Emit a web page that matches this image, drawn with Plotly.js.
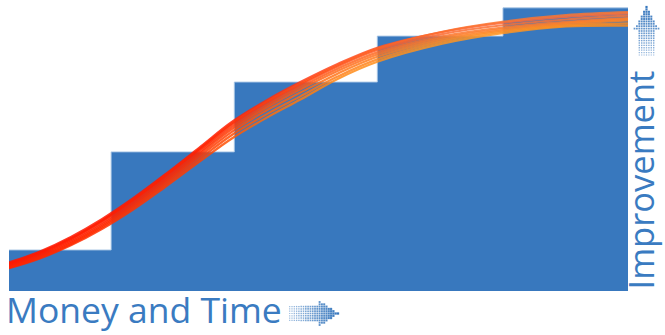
<!DOCTYPE html>
<html>
<head>
<meta charset="utf-8">
<script src="https://cdn.plot.ly/plotly-3.0.1.min.js"></script>
<style>
  html, body { margin: 0; padding: 0; background: #ffffff; }
  #chart { width: 665px; height: 335px; }
</style>
</head>
<body>
<div id="chart"></div>
<script>
// Funding stages: where each stage starts (money & time) and the level it reaches
const stageStart = [0, 16.5, 36.4, 59.5, 79.8, 100];
const stageLevel = [14.1, 47.8, 71.8, 87.6, 97.3, 97.3];

// Progress curves, all sampled at the same money & time positions
const curveX = [0, 5, 10, 15, 20, 25, 31, 36, 42, 47, 53, 59.5, 70, 80, 90, 100];
const curveA = [9.8, 13.6, 18.6, 24.7, 31.8, 39.7, 49.7, 58.1, 66.0, 71.7, 77.9, 83.6, 89.0, 92.2, 94.2, 95.4];
const curveB = [9.4, 13.2, 18.1, 24.2, 31.3, 39.3, 49.2, 57.6, 65.5, 71.2, 77.5, 83.3, 89.1, 92.6, 94.8, 95.8];
const curveC = [9.3, 13.0, 17.9, 24.0, 31.1, 38.9, 48.8, 57.2, 65.1, 70.8, 77.1, 82.8, 88.3, 91.4, 93.3, 94.6];
const curveD = [8.9, 12.6, 17.4, 23.4, 30.4, 38.2, 48.1, 56.4, 64.3, 70.0, 76.3, 82.0, 87.5, 90.6, 92.5, 93.8];
const curveE = [8.5, 12.2, 16.9, 22.8, 29.7, 37.5, 47.4, 55.6, 63.5, 69.2, 75.5, 81.3, 86.9, 90.1, 92.1, 93.4];
const curveF = [8.2, 11.8, 16.5, 22.3, 29.1, 36.8, 46.6, 54.7, 62.5, 68.1, 74.6, 80.5, 86.3, 89.6, 91.7, 93.0];
const curveG = [8.0, 11.5, 16.1, 21.8, 28.5, 36.1, 45.7, 53.6, 61.2, 66.8, 73.6, 79.6, 85.7, 89.2, 91.3, 92.0];
const curveH = [7.8, 11.2, 15.7, 21.3, 27.9, 35.4, 44.8, 52.4, 60.0, 65.7, 72.8, 78.8, 85.0, 88.7, 90.9, 91.2];

const curves = [curveA, curveB, curveC, curveD, curveE, curveF, curveG, curveH];
// 0 = stays red along the way, 1 = turns orange early
const warmth = [0.0, 0.3, 0.2, 0.4, 0.55, 0.7, 0.85, 1.0];

const axisLabelX = 'Money and Time';
const axisLabelY = 'Improvement';

const BLUE = '#3878be';
const TEXT_BLUE = '#3a7bc1';

const traces = [];

// Blue staircase of stage levels
traces.push({
  type: 'scatter',
  x: stageStart,
  y: stageLevel,
  mode: 'lines',
  line: { shape: 'hv', width: 1, color: 'rgba(170,198,230,0.9)' },
  fill: 'tozeroy',
  fillcolor: BLUE,
  hoverinfo: 'skip',
  xaxis: 'x', yaxis: 'y'
});

// Progress curves
curves.forEach(function (ys) {
  traces.push({
    type: 'scatter',
    x: curveX,
    y: ys,
    mode: 'lines',
    line: { shape: 'spline', smoothing: 1, width: 2.2, color: '#ff3000' },
    opacity: 0.85,
    hoverinfo: 'skip',
    xaxis: 'x', yaxis: 'y'
  });
});

// Dotted arrows beside the axis labels, drawn on a full-page overlay axis (pixel units)
function rightArrowDots() {
  const xs = [], ys = [], sz = [], op = [];
  const tipX = 338, midY = 313.5, headBase = 319, step = 2.3;
  for (let j = 0; j <= 21; j++) {
    const x = tipX - j * step;
    for (let k = -6; k <= 6; k++) {
      const y = midY + k * step;
      const inShaft = x <= headBase + 1 && Math.abs(y - midY) <= 7.5;
      const halfH = 13.5 * (tipX - x) / (tipX - headBase);
      const inHead = x >= headBase && Math.abs(y - midY) <= halfH + 0.01;
      if (inShaft || inHead) {
        const t = (x - 290) / (tipX - 290);
        xs.push(x); ys.push(y);
        sz.push(1.2 + 1.1 * t);
        op.push(0.5 + 0.5 * t);
      }
    }
  }
  return { xs, ys, sz, op };
}

function upArrowDots() {
  const xs = [], ys = [], sz = [], op = [];
  const tipY = 7, midX = 646.5, headBase = 29, step = 2.4;
  for (let j = 0; j <= 20; j++) {
    const y = tipY + j * step;
    for (let k = -5; k <= 5; k++) {
      const x = midX + k * step;
      const inShaft = y >= headBase - 1 && Math.abs(x - midX) <= 7.5;
      const halfW = 12.5 * (y - tipY) / (headBase - tipY);
      const inHead = y <= headBase && Math.abs(x - midX) <= halfW + 0.01;
      if (inShaft || inHead) {
        const t = (y - tipY) / 49;
        xs.push(x); ys.push(y);
        sz.push(2.2 - 1.0 * t);
        op.push(1.0 - 0.5 * t);
      }
    }
  }
  return { xs, ys, sz, op };
}

[rightArrowDots(), upArrowDots()].forEach(function (d) {
  traces.push({
    type: 'scatter',
    x: d.xs, y: d.ys,
    mode: 'markers',
    marker: { symbol: 'square', size: d.sz, opacity: d.op, color: BLUE, line: { width: 0 } },
    hoverinfo: 'skip',
    xaxis: 'x2', yaxis: 'y2'
  });
});

const layout = {
  width: 665,
  height: 335,
  margin: { l: 0, r: 0, t: 0, b: 0, pad: 0 },
  paper_bgcolor: '#ffffff',
  plot_bgcolor: 'rgba(0,0,0,0)',
  showlegend: false,
  xaxis: { domain: [9 / 665, 628 / 665], range: [0, 100], visible: false, fixedrange: true, anchor: 'y' },
  yaxis: { domain: [44 / 335, 1], range: [0, 100], visible: false, fixedrange: true, anchor: 'x' },
  xaxis2: { domain: [0, 1], range: [0, 665], visible: false, fixedrange: true, anchor: 'y2' },
  yaxis2: { domain: [0, 1], range: [335, 0], visible: false, fixedrange: true, anchor: 'x2' },
  annotations: [
    {
      text: axisLabelX,
      xref: 'paper', yref: 'paper',
      x: 4 / 665, y: 1 - 309 / 335,
      xanchor: 'left', yanchor: 'middle',
      showarrow: false,
      font: { family: 'Open Sans, sans-serif', size: 35.5, color: TEXT_BLUE }
    },
    {
      text: axisLabelY,
      xref: 'paper', yref: 'paper',
      x: 1, y: 1 - 180 / 335,
      xanchor: 'right', yanchor: 'middle',
      textangle: -90,
      showarrow: false,
      font: { family: 'Open Sans, sans-serif', size: 34.5, color: TEXT_BLUE }
    }
  ]
};

// Colour ramp along each curve: red at the start, warming to orange
const rampStops = [
  [0.00, [255, 20, 0],  [255, 35, 0]],
  [0.30, [255, 25, 0],  [255, 60, 0]],
  [0.42, [255, 45, 15], [255, 110, 10]],
  [0.55, [255, 75, 35], [255, 140, 25]],
  [0.75, [250, 100, 55], [255, 150, 35]],
  [1.00, [250, 110, 60], [255, 140, 25]]
];

function mix(a, b, t) {
  return 'rgb(' + a.map(function (v, i) { return Math.round(v + (b[i] - v) * t); }).join(',') + ')';
}

Plotly.newPlot('chart', traces, layout, { staticPlot: true, displayModeBar: false }).then(function (gd) {
  const NS = 'http://www.w3.org/2000/svg';
  const svg = gd.querySelector('.main-svg');
  let defs = svg.querySelector('defs');
  if (!defs) { defs = document.createElementNS(NS, 'defs'); svg.insertBefore(defs, svg.firstChild); }
  const plotWidth = gd._fullLayout.xaxis._length;

  curves.forEach(function (_, k) {
    const grad = document.createElementNS(NS, 'linearGradient');
    grad.setAttribute('id', 'curveRamp' + k);
    grad.setAttribute('gradientUnits', 'userSpaceOnUse');
    grad.setAttribute('x1', 0); grad.setAttribute('y1', 0);
    grad.setAttribute('x2', plotWidth); grad.setAttribute('y2', 0);
    rampStops.forEach(function (s) {
      const stop = document.createElementNS(NS, 'stop');
      stop.setAttribute('offset', s[0]);
      stop.setAttribute('stop-color', mix(s[1], s[2], warmth[k]));
      grad.appendChild(stop);
    });
    defs.appendChild(grad);
  });

  gd.querySelectorAll('.scatterlayer .trace').forEach(function (el) {
    const d = el.__data__;
    if (!d || !d[0] || !d[0].trace) return;
    const idx = d[0].trace.index - 1;
    if (idx < 0 || idx >= curves.length) return;
    const path = el.querySelector('path.js-line');
    if (path) path.style.stroke = 'url(#curveRamp' + idx + ')';
  });
});
</script>
</body>
</html>
